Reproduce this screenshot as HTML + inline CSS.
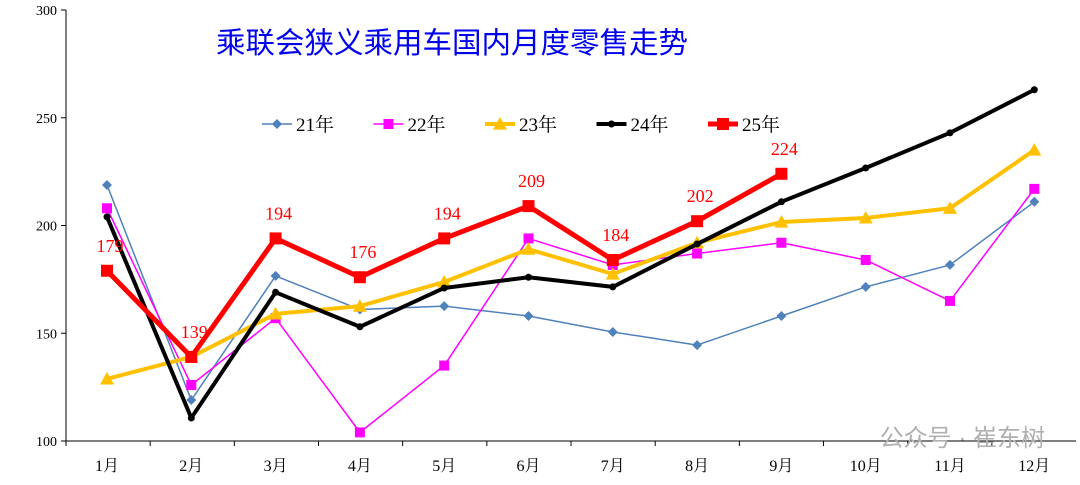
<!DOCTYPE html>
<html><head><meta charset="utf-8"><style>
body{margin:0;background:#fff;}
svg text{font-family:"Liberation Serif","Noto Serif CJK SC",serif;}
</style></head><body>
<svg id="c" width="1080" height="480" xmlns="http://www.w3.org/2000/svg">
<text x="452" y="53" text-anchor="middle" font-size="29.5" fill="#0000ee" style="font-family:'Liberation Sans','Noto Sans CJK SC',sans-serif">乘联会狭义乘用车国内月度零售走势</text>
<g id="ax"></g><g id="ser"></g><g id="lg"></g>
<text x="1045" y="446" text-anchor="end" font-size="24" fill="#b0b0b0" style="font-family:'Liberation Sans','Noto Sans CJK SC',sans-serif">公众号 · 崔东树</text>
</svg>
<script>
const months=["1月","2月","3月","4月","5月","6月","7月","8月","9月","10月","11月","12月"];
const yTicks=[100,150,200,250,300];
const s21=[218.8,119,176.6,161,162.6,158,150.6,144.5,158,171.5,181.7,211];
const s22=[208,126,157,104,135,194,181.7,187,192,184,165,217];
const s23=[128.8,139,159,162.6,173.8,189,177.5,192,201.6,203.5,208,235];
const s24=[204,110.7,169,153,171,176,171.5,191.4,211,226.7,243,263];
const s25=[179,139,194,176,194,209,184,202,224];
const names=["21年","22年","23年","24年","25年"];
const NS="http://www.w3.org/2000/svg";
const X=i=>107+i*84.3, Y=v=>441-(v-100)*2.155;
function mk(t,a,p){const e=document.createElementNS(NS,t);for(const k in a)e.setAttribute(k,a[k]);p.appendChild(e);return e;}
const ax=document.getElementById('ax'),ser=document.getElementById('ser'),lg=document.getElementById('lg');
let yl=mk('line',{x1:66,y1:10,x2:66,y2:441,stroke:'#000'},ax);


let xl=mk('line',{x1:66,y1:441,x2:1076,y2:441,stroke:'#000'},ax);


yTicks.forEach(v=>{mk('line',{x1:61,y1:Y(v),x2:66,y2:Y(v),stroke:'#000'},ax);
 const t=mk('text',{x:57,y:Y(v)+5,'text-anchor':'end','font-size':14},ax);t.textContent=v;
 
 });
months.forEach((m,i)=>{mk('line',{x1:66+i*84.17,y1:441,x2:66+i*84.17,y2:446,stroke:'#000'},ax);
 const t=mk('text',{x:X(i),y:471,'text-anchor':'middle','font-size':16},ax);t.textContent=m;
 
 });
const st=[{d:s21,c:'#4f81bd',w:1.5,m:'dia',ms:5},{d:s22,c:'#ff00ff',w:1.5,m:'sq',ms:5},{d:s23,c:'#ffc000',w:4,m:'tri',ms:7},{d:s24,c:'#000',w:4,m:'dot',ms:3.5},{d:s25,c:'#ff0000',w:5,m:'sq',ms:6}];
function marker(g,t,x,y,s,c){
 if(t=='dia')return mk('polygon',{points:`${x},${y-s} ${x+s},${y} ${x},${y+s} ${x-s},${y}`,fill:c},g);
 if(t=='sq')return mk('rect',{x:x-s,y:y-s,width:2*s,height:2*s,fill:c},g);
 if(t=='tri')return mk('polygon',{points:`${x},${y-s} ${x+s},${y+s*0.8} ${x-s},${y+s*0.8}`,fill:c},g);
 return mk('circle',{cx:x,cy:y,r:s,fill:c},g);}
st.forEach((s,k)=>{const g=mk('g',{},ser);
 
 
 mk('polyline',{points:s.d.map((v,i)=>X(i)+','+Y(v)).join(' '),fill:'none',stroke:s.c,'stroke-width':s.w,'stroke-linejoin':'round'},g);
 s.d.forEach((v,i)=>{const p=marker(g,s.m,X(i),Y(v),s.ms,s.c);
  
  });
 const lx=262+k*111.5;
 const li=mk('g',{},lg);
 
 
 mk('line',{x1:lx,y1:124,x2:lx+30,y2:124,stroke:s.c,'stroke-width':s.w},li);
 marker(li,s.m,lx+15,124,s.ms,s.c);
 const t=mk('text',{x:lx+34,y:131,'font-size':19},li);t.textContent=names[k];
});
s25.forEach((v,i)=>{const t=mk('text',{x:X(i)+3,y:Y(v)-19,'text-anchor':'middle','font-size':18,fill:'#ff0000'},ser);
 t.textContent=Math.round(v);
 
 });
</script>
</body></html>
